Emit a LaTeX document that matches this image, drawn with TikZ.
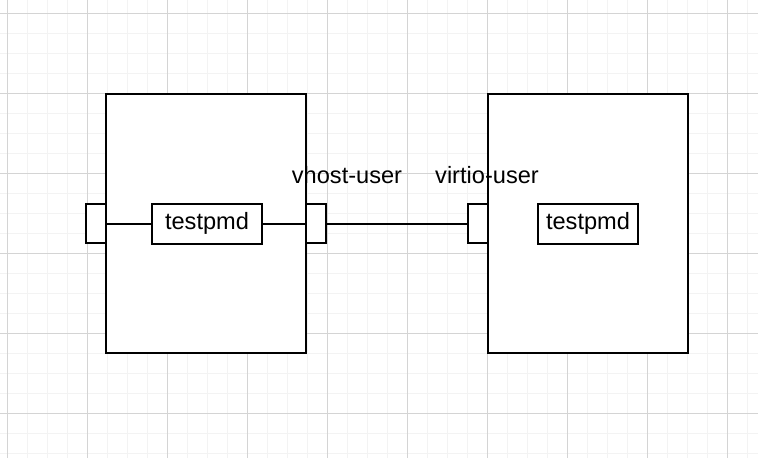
\documentclass[tikz,border=0pt]{standalone}
\usepackage{fontspec}
\setmainfont{Liberation Sans}
\definecolor{gridminor}{HTML}{F3F3F3}
\definecolor{gridmajor}{HTML}{D4D4D4}
\begin{document}
\begin{tikzpicture}[x=1pt,y=-1pt,
  box/.style={draw=black,line width=2pt,fill=white,rectangle,inner sep=0pt},
  conn/.style={draw=black,line width=2pt},
  lbl/.style={inner sep=0pt,font=\fontsize{23.6}{28}\selectfont}]
\useasboundingbox (0,0) rectangle (758,458);
\fill[white] (0,0) rectangle (758,458);
\foreach \x in {7,27,...,757} \draw[gridminor,line width=1pt] (\x,0) -- (\x,458);
\foreach \y in {13,33,...,457} \draw[gridminor,line width=1pt] (0,\y) -- (758,\y);
\foreach \x in {7,87,...,757} \draw[gridmajor,line width=1pt] (\x,0) -- (\x,458);
\foreach \y in {13,93,...,457} \draw[gridmajor,line width=1pt] (0,\y) -- (758,\y);
\node[box,minimum width=200pt,minimum height=259pt] (leftbox) at (206,223.5) {};
\node[box,minimum width=200pt,minimum height=259pt] (rightbox) at (588,223.5) {};
\node[box,minimum width=20pt,minimum height=39pt] (lport1) at (96,223.5) {};
\node[box,minimum width=20pt,minimum height=39pt] (lport2) at (316,223.5) {};
\node[box,minimum width=20pt,minimum height=39pt] (rport) at (478,223.5) {};
\node[box,lbl,minimum width=110pt,minimum height=40pt] (ltest) at (207,223.5) {testpmd};
\node[box,lbl,minimum width=100pt,minimum height=40pt] (rtest) at (588,223.5) {testpmd};
\draw[conn] (lport1.east) -- (ltest.west);
\draw[conn] (ltest.east) -- (lport2.west);
\draw[conn] (lport2.east) -- (rport.west);
\node[lbl] (vhost) at (347,175) {vhost-user};
\node[lbl] (virtio) at (487,175) {virtio-user};
\end{tikzpicture}
\end{document}
